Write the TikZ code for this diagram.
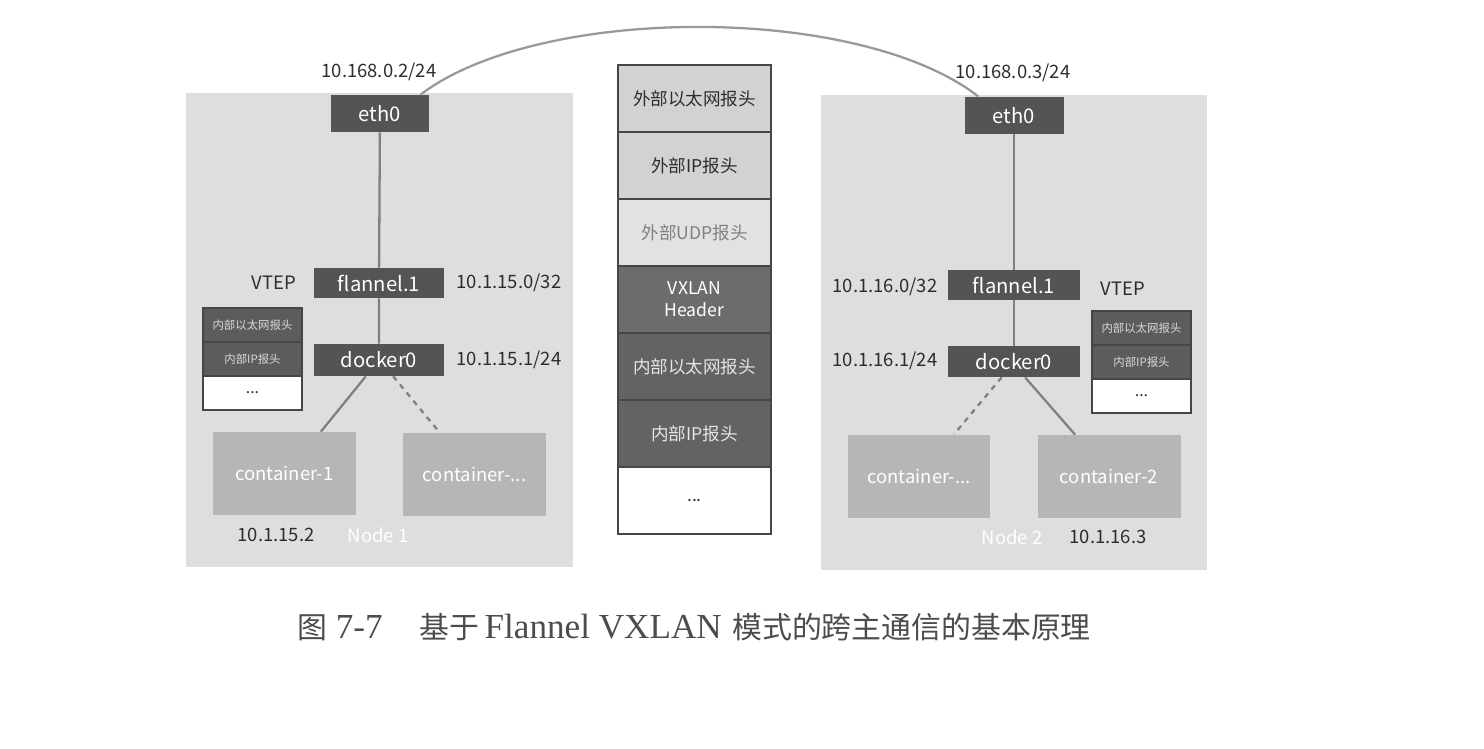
\documentclass[tikz,border=0pt]{standalone}
\usepackage{fontspec}
\setmainfont{Liberation Serif}
\newfontfamily\cjk{Noto Sans CJK SC}
\usetikzlibrary{positioning}
\definecolor{panelgray}{RGB}{222,222,222}
\definecolor{ifacegray}{RGB}{84,84,84}
\definecolor{ctrgray}{RGB}{182,182,182}
\definecolor{hdrlight}{RGB}{210,210,210}
\definecolor{hdrpale}{RGB}{226,226,226}
\definecolor{hdrdark}{RGB}{108,108,108}
\definecolor{minidark}{RGB}{92,92,92}
\definecolor{edgegray}{RGB}{70,70,70}
\definecolor{wiregray}{RGB}{128,128,128}
\definecolor{labelgray}{RGB}{45,45,45}
\tikzset{
	host/.style={fill=panelgray, inner sep=0pt}, % grey area of one host
	iface/.style={fill=ifacegray, text=white, inner sep=0pt, font=\cjk\fontsize{11.5}{13}\selectfont}, % eth0, flannel.1, docker0
	ctr/.style={fill=ctrgray, text=white, minimum width=2.86cm, minimum height=1.66cm, inner sep=0pt, font=\cjk\fontsize{10.5}{12}\selectfont}, % the containers
	hdr/.style={draw=edgegray, line width=0.9pt, outer sep=0pt, minimum width=3.06cm, minimum height=1.34cm, inner sep=0pt, align=center, font=\cjk\fontsize{10}{12.5}\selectfont}, % one header of the packet
	mini/.style={draw=edgegray, line width=0.7pt, outer sep=0pt, minimum width=1.98cm, minimum height=0.68cm, inner sep=0pt, font=\cjk\fontsize{6.5}{8}\selectfont}, % small packet beside VTEP
	addr/.style={text=labelgray, font=\cjk\fontsize{10.5}{12}\selectfont}, % addresses and VTEP
	wire/.style={draw=wiregray, line width=1.3pt}, % links between interfaces
}
\begin{document}
\begin{tikzpicture}[x=0.02cm, y=-0.02cm]
	\useasboundingbox (0,0) rectangle (1484,748);

	% hosts
	\node[host, minimum width=7.74cm, minimum height=9.48cm] (node1) at (379.5,330) {};
	\node[host, minimum width=7.72cm, minimum height=9.5cm] (node2) at (1014,332.5) {};

	% Node 1
	\node[iface, minimum width=1.98cm, minimum height=0.74cm] (eth0L) at (380,113.5) {eth0};
	\node[iface, minimum width=2.6cm, minimum height=0.6cm] (flannelL) at (379,283) {flannel.1};
	\node[iface, minimum width=2.6cm, minimum height=0.64cm] (dockerL) at (379,360) {docker0};
	\node[ctr] (c1L) at (284.5,473.5) {container-1};
	\node[ctr] (cxL) at (474.5,474) {container-...};
	\node[mini, fill=minidark, text=white!85!black] (m1L) at (252.5,325) {内部以太网报头};
	\node[mini, fill=minidark, text=white!85!black, below=0pt of m1L] (m2L) {内部IP报头};
	\node[mini, fill=white, text=labelgray, font=\cjk\fontsize{9}{10}\selectfont, below=0pt of m2L] (m3L) {...};
	\node[addr] (ipL) at (379,72) {10.168.0.2/24};
	\node[addr] (vtepL) at (274,283) {VTEP};
	\node[addr] (fipL) at (509,283) {10.1.15.0/32};
	\node[addr] (dipL) at (509,360) {10.1.15.1/24};
	\node[addr] (cipL) at (276,535) {10.1.15.2};
	\node[addr, text=white] (nameL) at (378,535) {Node 1};

	% Node 2
	\node[iface, minimum width=1.98cm, minimum height=0.74cm] (eth0R) at (1014,115.5) {eth0};
	\node[iface, minimum width=2.64cm, minimum height=0.6cm] (flannelR) at (1014,285) {flannel.1};
	\node[iface, minimum width=2.64cm, minimum height=0.62cm] (dockerR) at (1014,361.5) {docker0};
	\node[ctr] (cxR) at (919,476) {container-...};
	\node[ctr] (c2R) at (1109,476.5) {container-2};
	\node[mini, fill=minidark, text=white!85!black] (m1R) at (1141.5,328) {内部以太网报头};
	\node[mini, fill=minidark, text=white!85!black, below=0pt of m1R] (m2R) {内部IP报头};
	\node[mini, fill=white, text=labelgray, font=\cjk\fontsize{9}{10}\selectfont, below=0pt of m2R] (m3R) {...};
	\node[addr] (ipR) at (1013,73) {10.168.0.3/24};
	\node[addr] (vtepR) at (1123,289) {VTEP};
	\node[addr] (fipR) at (885,287) {10.1.16.0/32};
	\node[addr] (dipR) at (885,361) {10.1.16.1/24};
	\node[addr] (cipR) at (1108,537) {10.1.16.3};
	\node[addr, text=white] (nameR) at (1012,537) {Node 2};

	% packet
	\node[hdr, fill=hdrlight, text=labelgray] (h1) at (694.5,98.5) {外部以太网报头};
	\node[hdr, fill=hdrlight, text=labelgray, below=0pt of h1] (h2) {外部IP报头};
	\node[hdr, fill=hdrpale, text=wiregray, below=0pt of h2] (h3) {外部UDP报头};
	\node[hdr, fill=hdrdark, text=white, below=0pt of h3] (h4) {VXLAN\\Header};
	\node[hdr, fill=hdrdark!92!black, text=white!90!black, below=0pt of h4] (h5) {内部以太网报头};
	\node[hdr, fill=hdrdark!92!black, text=white!90!black, below=0pt of h5] (h6) {内部IP报头};
	\node[hdr, fill=white, text=labelgray, below=0pt of h6] (h7) {...};

	% links
	\draw[wire, draw=wiregray!80] (eth0L.25) .. controls (540,4) and (860,4) .. (eth0R.152);
	\draw[wire] (eth0L) -- (flannelL) -- (dockerL);
	\draw[wire] (eth0R) -- (flannelR) -- (dockerR);
	\draw[wire] (dockerL.231) -- (c1L.49.5);
	\draw[wire, dashed] (dockerL.311) -- (cxL.130);
	\draw[wire, dashed] (dockerR.232) -- (cxR.50.3);
	\draw[wire] (dockerR.305) -- (c2R.129);

	% caption
	\node[text=black!70, font=\fontsize{20}{22}\selectfont] (caption) at (694,627) {{\cjk\fontsize{17}{19}\selectfont 图} 7-7\hspace{1.05em}{\cjk\fontsize{17}{19}\selectfont 基于}\hspace{0.15em}Flannel VXLAN\hspace{0.3em}{\cjk\fontsize{17}{19}\selectfont 模式的跨主通信的基本原理}};
\end{tikzpicture}
\end{document}
